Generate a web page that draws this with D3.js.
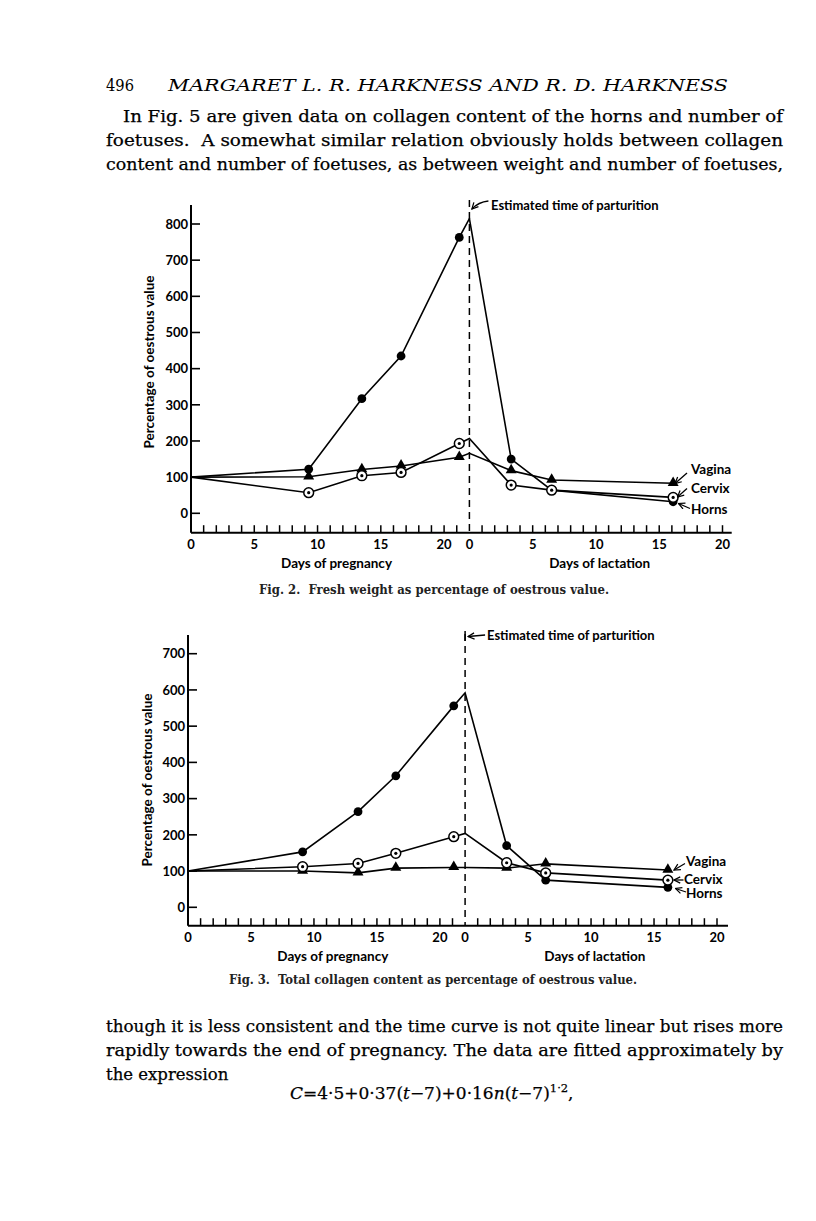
<!DOCTYPE html>
<html><head><meta charset="utf-8">
<script src="https://cdn.jsdelivr.net/npm/d3@7"></script>
<style>body{margin:0;background:#fff}svg{display:block}</style>
</head><body>
<script>
// ---------- DATA ----------
const gestationDays = 22;               // parturition at day 22 of pregnancy
const pregnancyTickLabels = [0, 5, 10, 15, 20];
const lactationTickLabels = [0, 5, 10, 15, 20];
const seriesNames = ["Vagina", "Cervix", "Horns"];

// Fig. 2 — fresh weight, % of oestrous value
const fig2PregDays = [0, 9.3, 13.5, 16.6, 21.2];
const fig2LactDays = [0, 3.3, 6.5, 16.1];
const fig2Horns  = [100, 122, 317, 435, 763, 815, 150, 64, 32];
const fig2Cervix = [100, 57, 104, 113, 193, 207, 78, 64, 44];
const fig2Vagina = [100, 101, 121, 131, 155, 166, 118, 92, 83];
const fig2YTicks = [0, 100, 200, 300, 400, 500, 600, 700, 800];

// Fig. 3 — total collagen content, % of oestrous value
const fig3PregDays = [0, 9.1, 13.5, 16.5, 21.1];
const fig3LactDays = [0, 3.3, 6.4, 16.1];
const fig3Horns  = [100, 153, 264, 363, 556, 592, 170, 75, 55];
const fig3Cervix = [100, 112, 121, 149, 195, 204, 123, 95, 75];
const fig3Vagina = [100, 100, 95, 108, 110, 110, 108, 120, 103];
const fig3YTicks = [0, 100, 200, 300, 400, 500, 600, 700];

// points without a plotted symbol (oestrous baseline and estimated parturition value)
const unmarkedIdx = [0, 5];

// ---------- TEXT ----------
const pageNumber = "496";
const runningHead = "MARGARET L. R. HARKNESS AND R. D. HARKNESS";
const paraTop = [
  "In Fig. 5 are given data on collagen content of the horns and number of",
  "foetuses.  A somewhat similar relation obviously holds between collagen",
  "content and number of foetuses, as between weight and number of foetuses,"
];
const paraBottom = [
  "though it is less consistent and the time curve is not quite linear but rises more",
  "rapidly towards the end of pregnancy. The data are fitted approximately by",
  "the expression"
];
const fig2Caption = "Fig. 2.  Fresh weight as percentage of oestrous value.";
const fig3Caption = "Fig. 3.  Total collagen content as percentage of oestrous value.";

// ---------- DRAW ----------
const W = 816, H = 1221;
const svg = d3.select("body").append("svg").attr("width", W).attr("height", H)
  .style("background", "#fff");

const serif = "'DejaVu Serif', 'Liberation Serif', serif";
const sans = "Lato, 'Open Sans', sans-serif";

// header
svg.append("text").attr("x", 106).attr("y", 91).attr("font-family", serif)
  .attr("font-size", 16.5).attr("textLength", 28).attr("lengthAdjust", "spacingAndGlyphs")
  .attr("fill", "#000").text(pageNumber);
svg.append("text").attr("x", 168).attr("y", 91).attr("font-family", serif)
  .attr("font-style", "italic").attr("font-size", 17).attr("fill", "#000")
  .attr("textLength", 560).attr("lengthAdjust", "spacingAndGlyphs").text(runningHead);

function para(lines, x0s, ys, lastNatural) {
  lines.forEach((s, i) => {
    const t = svg.append("text").attr("x", x0s[i]).attr("y", ys[i])
      .attr("font-family", serif).attr("font-size", 16.5).attr("fill", "#000")
      .attr("stroke", "#000").attr("stroke-width", 0.25)
      .attr("xml:space", "preserve").text(s);
    if (!(lastNatural && i === lines.length - 1)) {
      t.attr("textLength", 783 - x0s[i]).attr("lengthAdjust", "spacingAndGlyphs");
    }
  });
}
para(paraTop, [123, 106, 106], [122, 146, 170], false);
para(paraBottom, [106, 106, 106], [1032, 1056, 1080], true);

// formula
const f = svg.append("text").attr("x", 290).attr("y", 1099)
  .attr("font-family", serif).attr("font-size", 17).attr("fill", "#000")
  .attr("stroke", "#000").attr("stroke-width", 0.25);
f.append("tspan").attr("font-style", "italic").text("C");
f.append("tspan").text("=4·5+0·37(");
f.append("tspan").attr("font-style", "italic").text("t");
f.append("tspan").text("−7)+0·16");
f.append("tspan").attr("font-style", "italic").text("n");
f.append("tspan").text("(");
f.append("tspan").attr("font-style", "italic").text("t");
f.append("tspan").text("−7)");
f.append("tspan").attr("dy", -7).attr("font-size", 11.5).text("1·2");
f.append("tspan").attr("dy", 7).text(",");

// arrowhead marker
const defs = svg.append("defs");
defs.append("marker").attr("id", "ah").attr("viewBox", "0 0 10 10")
  .attr("refX", 9).attr("refY", 5).attr("markerWidth", 6).attr("markerHeight", 6)
  .attr("orient", "auto").append("path").attr("d", "M1,1 L9,5 L1,9")
  .attr("fill", "none").attr("stroke", "#000").attr("stroke-width", 1.6);

function drawFigure(cfg) {
  const g = svg.append("g");
  const x = d3.scaleLinear().domain([0, gestationDays + 20]).range([cfg.x0, cfg.x42]);
  const y = d3.scaleLinear().domain([0, cfg.yTicks[cfg.yTicks.length - 1]])
    .range([cfg.yZero, cfg.yTop]);

  const times = cfg.preg.concat(cfg.lact.map(d => d + gestationDays));

  // y axis
  g.append("line").attr("x1", cfg.x0).attr("x2", cfg.x0)
    .attr("y1", cfg.axisTop).attr("y2", cfg.axisY)
    .attr("stroke", "#000").attr("stroke-width", 2);
  const yt = g.selectAll(".yt").data(cfg.yTicks).enter().append("g")
    .attr("transform", d => `translate(${cfg.x0},${y(d)})`);
  yt.append("line").attr("x1", 0).attr("x2", 9).attr("stroke", "#000").attr("stroke-width", 1.6);
  yt.append("text").attr("x", -3).attr("dy", "0.36em").attr("text-anchor", "end")
    .attr("font-family", sans).attr("font-weight", "bold").attr("font-size", 13)
    .text(d => d);

  // x axis
  g.append("line").attr("x1", cfg.x0).attr("x2", cfg.axisRight)
    .attr("y1", cfg.axisY).attr("y2", cfg.axisY)
    .attr("stroke", "#000").attr("stroke-width", 2);
  const minor = d3.range(1, gestationDays + 21).filter(d => d !== gestationDays);
  g.selectAll(".xt").data(minor).enter().append("line")
    .attr("x1", d => x(d)).attr("x2", d => x(d))
    .attr("y1", cfg.axisY).attr("y2", cfg.axisY - 7.5)
    .attr("stroke", "#000").attr("stroke-width", 1.5);
  const tl = pregnancyTickLabels.map(d => ({t: d, s: d}))
    .concat(lactationTickLabels.map(d => ({t: d + gestationDays, s: d})));
  g.selectAll(".xl").data(tl).enter().append("text")
    .attr("x", d => x(d.t)).attr("y", cfg.axisY + 16)
    .attr("text-anchor", "middle").attr("font-family", sans).attr("font-weight", "bold")
    .attr("font-size", 13).text(d => d.s);
  g.append("text").attr("x", x(11.5)).attr("y", cfg.axisY + 35).attr("text-anchor", "middle")
    .attr("font-family", sans).attr("font-size", 13.5).attr("font-weight", "bold")
    .text("Days of pregnancy");
  g.append("text").attr("x", x(gestationDays + 10.3)).attr("y", cfg.axisY + 35).attr("text-anchor", "middle")
    .attr("font-family", sans).attr("font-size", 13.5).attr("font-weight", "bold")
    .text("Days of lactation");

  // y label
  g.append("text").attr("transform", `translate(${cfg.yLabX},${cfg.yLabY}) rotate(-90)`)
    .attr("text-anchor", "middle").attr("font-family", sans).attr("font-size", 13.5)
    .attr("font-weight", "bold").text("Percentage of oestrous value");

  // parturition line
  const xp = x(gestationDays);
  g.append("line").attr("x1", xp).attr("x2", xp).attr("y1", cfg.dashTop).attr("y2", cfg.axisY)
    .attr("stroke", "#000").attr("stroke-width", 1.5).attr("stroke-dasharray", "7,5");
  g.append("text").attr("x", cfg.estX).attr("y", cfg.estY).attr("font-family", sans)
    .attr("font-size", 13).attr("font-weight", "bold").text("Estimated time of parturition");
  cfg.estArrow(g, xp);

  // series
  const series = [
    {name: "Horns", v: cfg.horns, sym: "dot"},
    {name: "Vagina", v: cfg.vagina, sym: "tri"},
    {name: "Cervix", v: cfg.cervix, sym: "ring"}
  ];
  const line = d3.line().x(d => x(d[0])).y(d => y(d[1]));
  series.forEach(s => {
    g.append("path").attr("d", line(times.map((t, i) => [t, s.v[i]])))
      .attr("fill", "none").attr("stroke", "#000").attr("stroke-width", 1.6);
  });
  series.forEach(s => {
    const pts = times.map((t, i) => ({t, v: s.v[i], i})).filter(d => !unmarkedIdx.includes(d.i));
    const m = g.selectAll(null).data(pts).enter().append("g")
      .attr("transform", d => `translate(${x(d.t)},${y(d.v)})`);
    if (s.sym === "dot") m.append("circle").attr("r", 4.4).attr("fill", "#000");
    if (s.sym === "tri") m.append("path").attr("d", d3.symbol(d3.symbolTriangle, 52)())
      .attr("transform", "translate(0,-0.5)").attr("fill", "#000");
    if (s.sym === "ring") {
      m.append("circle").attr("r", 4.9).attr("fill", "#fff").attr("stroke", "#000").attr("stroke-width", 1.5);
      m.append("circle").attr("r", 1.6).attr("fill", "#000");
    }
  });

  // series labels with arrows
  cfg.labels.forEach(l => {
    g.append("text").attr("x", l.x).attr("y", l.y).attr("dy", "0.36em")
      .attr("font-family", sans).attr("font-size", 13.5).attr("font-weight", "bold").text(l.name);
    g.append("line").attr("x1", l.ax1).attr("y1", l.ay1).attr("x2", l.ax2).attr("y2", l.ay2)
      .attr("stroke", "#000").attr("stroke-width", 1.3).attr("marker-end", "url(#ah)");
  });

  // caption
  g.append("text").attr("x", cfg.capX).attr("y", cfg.capY).attr("font-family", serif)
    .attr("font-size", 12).attr("font-weight", "bold").attr("fill", "#222")
    .attr("textLength", cfg.capLen).attr("lengthAdjust", "spacingAndGlyphs")
    .attr("xml:space", "preserve").text(cfg.caption);
}

drawFigure({
  x0: 191, x42: 722.5, yZero: 513.3, yTop: 224, yTicks: fig2YTicks,
  axisTop: 205, axisY: 532.7, axisRight: 731.7, dashTop: 200,
  preg: fig2PregDays, lact: fig2LactDays,
  horns: fig2Horns, cervix: fig2Cervix, vagina: fig2Vagina,
  yLabX: 154, yLabY: 362,
  estX: 491, estY: 210,
  estArrow: (g, xp) => g.append("path")
    .attr("d", `M${xp + 19},${201} Q${xp + 9},${202} ${xp + 2.5},${209}`)
    .attr("fill", "none").attr("stroke", "#000").attr("stroke-width", 1.3).attr("marker-end", "url(#ah)"),
  labels: [
    {name: "Vagina", x: 691, y: 469, ax1: 687, ay1: 473, ax2: 675, ay2: 483.5},
    {name: "Cervix", x: 691, y: 488, ax1: 687, ay1: 488.5, ax2: 677.5, ay2: 497},
    {name: "Horns", x: 691, y: 509, ax1: 690, ay1: 508.5, ax2: 678.5, ay2: 503.5}
  ],
  caption: fig2Caption, capX: 259, capY: 594, capLen: 350
});

drawFigure({
  x0: 188, x42: 717, yZero: 907.3, yTop: 653.7, yTicks: fig3YTicks,
  axisTop: 635, axisY: 925.7, axisRight: 728, dashTop: 634,
  preg: fig3PregDays, lact: fig3LactDays,
  horns: fig3Horns, cervix: fig3Cervix, vagina: fig3Vagina,
  yLabX: 152, yLabY: 780,
  estX: 487, estY: 640,
  estArrow: (g, xp) => {
    g.append("line").attr("x1", xp).attr("x2", xp).attr("y1", 631).attr("y2", 641)
      .attr("stroke", "#000").attr("stroke-width", 1.5);
    g.append("line").attr("x1", xp + 20).attr("x2", xp + 3).attr("y1", 635).attr("y2", 636.5)
      .attr("stroke", "#000").attr("stroke-width", 1.3).attr("marker-end", "url(#ah)");
  },
  labels: [
    {name: "Vagina", x: 686, y: 861, ax1: 685, ay1: 863.5, ax2: 674, ay2: 870},
    {name: "Cervix", x: 684, y: 879.5, ax1: 683.5, ay1: 880, ax2: 674, ay2: 880},
    {name: "Horns", x: 686, y: 893.5, ax1: 686, ay1: 892, ax2: 675.5, ay2: 888.5}
  ],
  caption: fig3Caption, capX: 229, capY: 984, capLen: 408
});
</script>
</body></html>
